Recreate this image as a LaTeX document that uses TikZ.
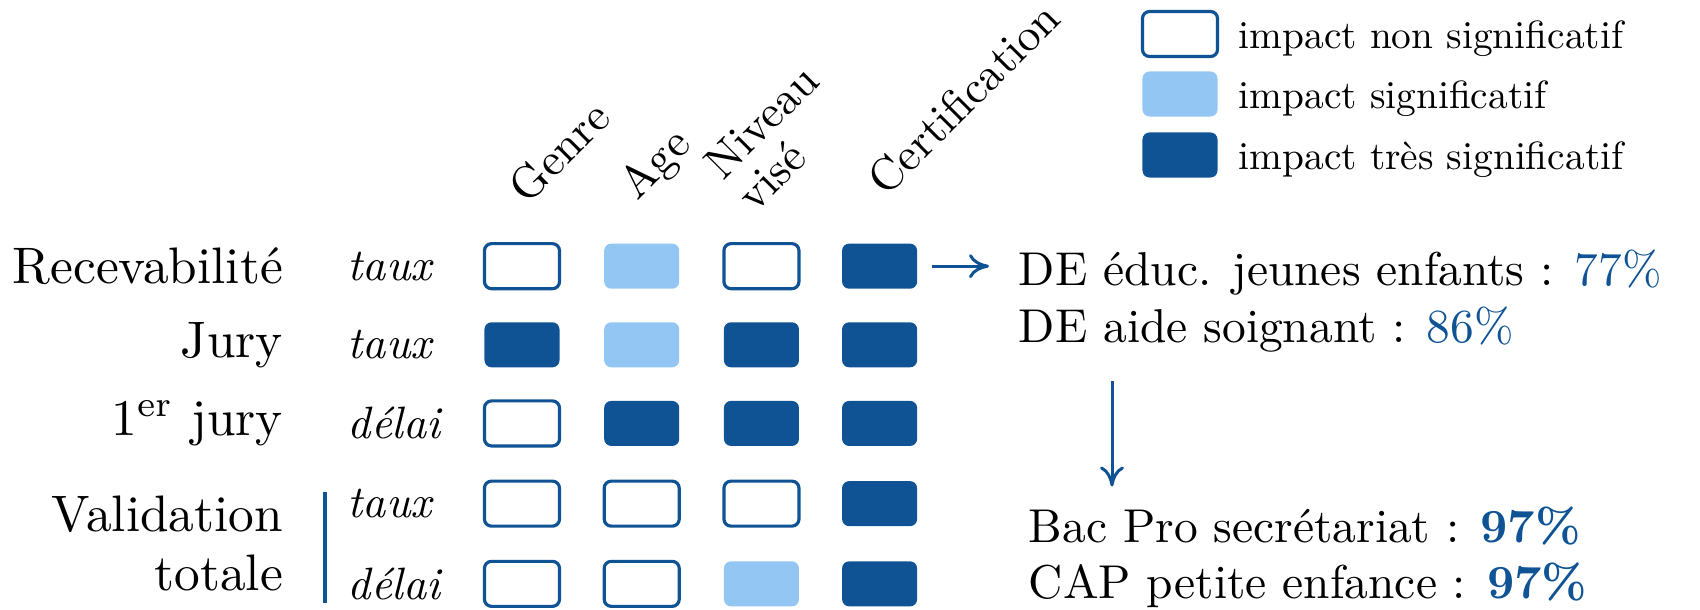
\documentclass[tikz,border=0pt]{standalone}
\usepackage{xcolor}
\usepackage{tikz}
\usetikzlibrary{matrix,calc,arrows.meta}
\definecolor{impblue}{HTML}{0F5394}
\definecolor{implight}{HTML}{94C6F4}
\tikzset{>={To[length=2mm,width=2.4mm]}}
\tikzstyle{cell}=[rounded corners=2pt,minimum width=0.75cm,minimum height=0.45cm,inner sep=0pt]
\tikzstyle{nonsig}=[cell,draw=impblue,line width=0.9pt,fill=white]
\tikzstyle{sig}=[cell,fill=implight]
\tikzstyle{tressig}=[cell,fill=impblue]
\tikzstyle{rowlab}=[scale=1.46,inner sep=0pt,anchor=east]
\tikzstyle{ratelab}=[scale=1.29,inner sep=0pt,anchor=west,font=\itshape]
\tikzstyle{crit}=[scale=1.3,inner sep=0pt,rotate=45]
\tikzstyle{legtxt}=[scale=1.12,inner sep=0pt,anchor=base west]
\tikzstyle{result}=[scale=1.35,inner sep=0pt,anchor=base west]
\tikzstyle{link}=[->,impblue,line width=0.85pt]

\begin{document}
\begin{tikzpicture}[x=0.01cm,y=-0.01cm]
    \useasboundingbox (0,0) rectangle (1700,609);
    % grille des impacts
    \matrix (grid) [matrix of nodes,row sep=0.32cm,column sep=0.415cm,inner sep=0pt] at (700,425) {
      |[nonsig]| {} & |[sig]| {} & |[nonsig]| {} & |[tressig]| {} \\
      |[tressig]| {} & |[sig]| {} & |[tressig]| {} & |[tressig]| {} \\
      |[nonsig]| {} & |[tressig]| {} & |[tressig]| {} & |[tressig]| {} \\
      |[nonsig]| {} & |[nonsig]| {} & |[nonsig]| {} & |[tressig]| {} \\
      |[nonsig]| {} & |[nonsig]| {} & |[sig]| {} & |[tressig]| {} \\
    };
    % etapes
    \coordinate (labx) at (284,0);
    \coordinate (ratex) at (347,0);
    \coordinate (valy) at ($(grid-4-1)!0.5!(grid-5-1)$);
    \node[rowlab] (recev) at (grid-1-1 -| labx) {Recevabilité};
    \node[rowlab] (jury) at (grid-2-1 -| labx) {Jury};
    \node[rowlab] (premjury) at (grid-3-1 -| labx) {1\textsuperscript{er} jury};
    \node[rowlab,align=right,font=\fontsize{10}{11.5}\selectfont] (valid) at (valy -| labx) {Validation\\totale};
    \node[ratelab] (taux1) at (grid-1-1 -| ratex) {taux};
    \node[ratelab] (taux2) at (grid-2-1 -| ratex) {taux};
    \node[ratelab] (delai3) at (grid-3-1 -| ratex) {délai};
    \node[ratelab] (taux4) at (grid-4-1 -| ratex) {taux};
    \node[ratelab] (delai5) at (grid-5-1 -| ratex) {délai};
    \coordinate (bartop) at (325,492);
    \coordinate (barbot) at (325,603);
    \draw[impblue,line width=1.2pt] (bartop) -- (barbot);
    % criteres
    \node[crit,anchor=base west] (genre) at (527,206) {Genre};
    \node[crit,anchor=base west] (age) at (637,202) {Age};
    \node[crit,anchor=south west,align=left,font=\fontsize{10}{10}\selectfont] (niveau) at (756,215) {Niveau\\visé};
    \node[crit,anchor=base west] (certif) at (886,198) {Certification};
    % legende
    \coordinate (legx) at (1238,0);
    \node[nonsig] (leg1) at (1180,34) {};
    \node[sig] (leg2) at (1180,94) {};
    \node[tressig] (leg3) at (1180,155) {};
    \node[legtxt] (legt1) at ($(leg1 -| legx)+(0,14)$) {impact non significatif};
    \node[legtxt] (legt2) at ($(leg2 -| legx)+(0,14)$) {impact significatif};
    \node[legtxt] (legt3) at ($(leg3 -| legx)+(0,14)$) {impact très significatif};
    % certifications
    \node[result] (de1) at (1018,285) {DE éduc. jeunes enfants : \textcolor{impblue}{77\%}};
    \node[result] (de2) at (1018,342) {DE aide soignant : \textcolor{impblue}{86\%}};
    \node[result] (bac) at (1028,542) {Bac Pro secrétariat : \textcolor{impblue}{\textbf{97\%}}};
    \node[result] (cap) at (1028,598) {CAP petite enfance : \textcolor{impblue}{\textbf{97\%}}};
    \coordinate (downx) at (1112,0);
    \draw[link,shorten <=0.14cm,shorten >=0.29cm] (grid-1-4.east) -- (grid-1-4.east -| de1.west);
    \draw[link,shorten <=0.28cm,shorten >=0.19cm] (de2.south -| downx) -- (bac.north -| downx);
\end{tikzpicture}
\end{document}
